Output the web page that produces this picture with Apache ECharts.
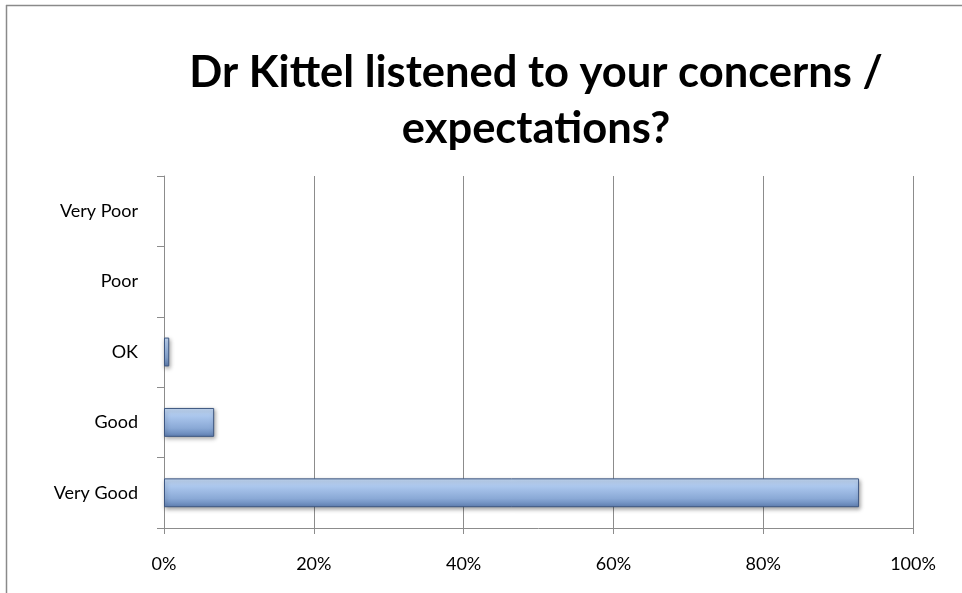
<!DOCTYPE html>
<html><head><meta charset="utf-8">
<script src="https://cdn.jsdelivr.net/npm/echarts@6/dist/echarts.min.js"></script>
<style>html,body{margin:0;padding:0;background:#fff}#c{width:962px;height:593px}</style>
</head><body><div id="c"></div>
<script>
var categories = ['Very Good', 'Good', 'OK', 'Poor', 'Very Poor'];
var values = [92.8, 6.7, 0.7, 0, 0];
var xTicks = [0, 20, 40, 60, 80, 100];
var titleLines = ['Dr Kittel listened to your concerns /', 'expectations?'];

var chart = echarts.init(document.getElementById('c'));
var font = 'Lato, "Open Sans", sans-serif';
var titleFont = 'bold 43.5px ' + font;
chart.setOption({
  animation: false,
  backgroundColor: '#fff',
  graphic: [
    {type: 'line', shape: {x1: 6, y1: 5.5, x2: 962, y2: 5.5}, style: {stroke: '#8a8a8a', lineWidth: 1.5}},
    {type: 'line', shape: {x1: 6.5, y1: 5, x2: 6.5, y2: 593}, style: {stroke: '#8a8a8a', lineWidth: 1.5}},
    {type: 'text', x: 536, y: 73, style: {text: titleLines[0], align: 'center', verticalAlign: 'middle', font: titleFont, fill: '#000'}},
    {type: 'text', x: 536, y: 129, style: {text: titleLines[1], align: 'center', verticalAlign: 'middle', font: titleFont, fill: '#000'}}
  ],
  grid: {left: 164, right: 49, top: 176, bottom: 65},
  xAxis: {
    type: 'value', min: xTicks[0], max: xTicks[xTicks.length - 1], interval: 20,
    axisLine: {show: true, lineStyle: {color: '#8c8c8c', width: 1}},
    axisTick: {show: true, length: 6, lineStyle: {color: '#8c8c8c'}},
    splitLine: {show: true, lineStyle: {color: '#8c8c8c', width: 1}},
    axisLabel: {formatter: '{value}%', fontFamily: font, fontSize: 18, color: '#000', margin: 27}
  },
  yAxis: {
    type: 'category', data: categories,
    axisLine: {show: true, lineStyle: {color: '#8c8c8c', width: 1}},
    axisTick: {show: true, length: 7, lineStyle: {color: '#8c8c8c'}},
    axisLabel: {fontFamily: font, fontSize: 18, color: '#000', margin: 26}
  },
  series: [{
    type: 'bar', data: values.map(function (v) { return v === 0 ? '-' : v; }), barWidth: '41%',
    itemStyle: {
      color: {type: 'linear', x: 0, y: 0, x2: 0, y2: 1, colorStops: [
        {offset: 0, color: '#c6dbf6'}, {offset: 0.3, color: '#a9c5ec'},
        {offset: 0.7, color: '#8aa9d6'}, {offset: 1, color: '#5f7fb2'}]},
      borderColor: '#3d5680', borderWidth: 1,
      shadowColor: 'rgba(0,0,0,0.35)', shadowBlur: 4, shadowOffsetX: 1, shadowOffsetY: 2
    }
  }]
});
</script></body></html>
